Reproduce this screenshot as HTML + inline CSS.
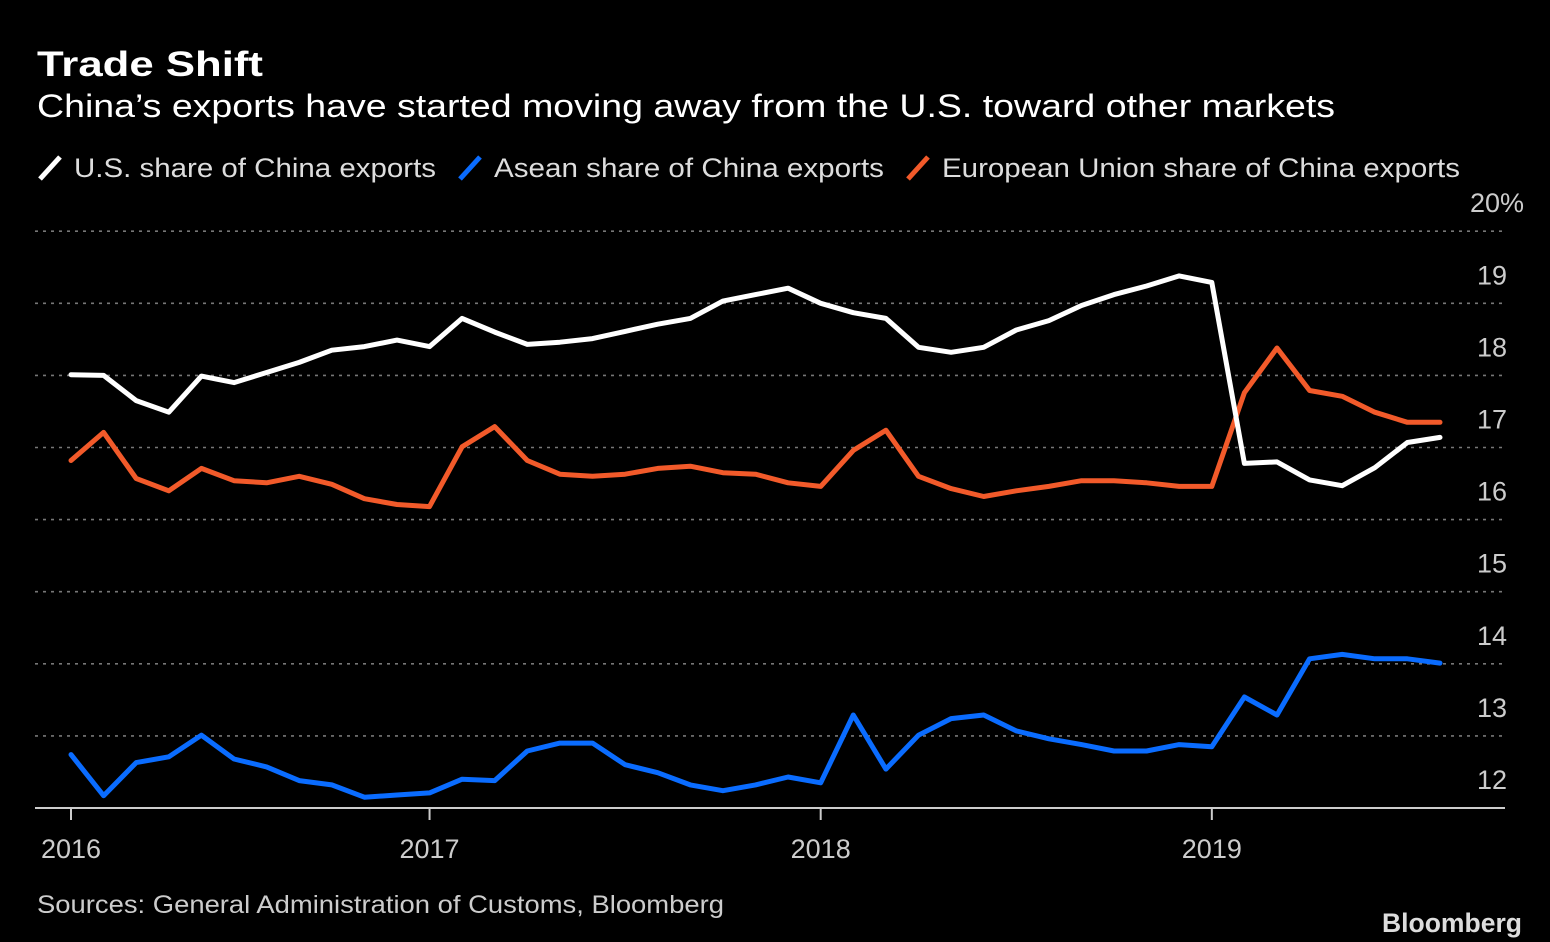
<!DOCTYPE html>
<html><head><meta charset="utf-8"><style>
html,body{margin:0;padding:0;background:#000;}
svg{display:block;font-family:"Liberation Sans",sans-serif;}
</style></head><body>
<svg id="chart" width="1550" height="942" viewBox="0 0 1550 942">
<rect width="1550" height="942" fill="#000"/>
<text x="37" y="76" fill="#fff" font-size="35" font-weight="bold" textLength="226" lengthAdjust="spacingAndGlyphs">Trade Shift</text>
<text x="37" y="117" fill="#fff" font-size="32" textLength="1298" lengthAdjust="spacingAndGlyphs">China’s exports have started moving away from the U.S. toward other markets</text>
<g>
<g><line x1="40" y1="179" x2="60" y2="157" stroke="#fff" stroke-width="5"/><text x="74" y="177" fill="#ddd" font-size="27" textLength="362" lengthAdjust="spacingAndGlyphs">U.S. share of China exports</text></g>
<g><line x1="460" y1="179" x2="480" y2="157" stroke="#0a6cff" stroke-width="5"/><text x="494" y="177" fill="#ddd" font-size="27" textLength="390" lengthAdjust="spacingAndGlyphs">Asean share of China exports</text></g>
<g><line x1="908" y1="179" x2="928" y2="157" stroke="#f25a2a" stroke-width="5"/><text x="942" y="177" fill="#ddd" font-size="27" textLength="518" lengthAdjust="spacingAndGlyphs">European Union share of China exports</text></g>
</g>
<g id="grid"></g><g id="axes"></g><g id="series"></g>
<text x="37" y="913" fill="#ccc" font-size="25" textLength="687" lengthAdjust="spacingAndGlyphs">Sources: General Administration of Customs, Bloomberg</text>
<text x="1522" y="932" text-anchor="end" fill="#ddd" font-size="27" font-weight="bold" textLength="140" lengthAdjust="spacingAndGlyphs">Bloomberg</text>
</svg>
<script>
const yTicks = [12,13,14,15,16,17,18,19,20];
const yTickLabels = ["12","13","14","15","16","17","18","19","20%"];
const xTickIndex = [0,11,23,35];
const xTickLabels = ["2016","2017","2018","2019"];
const usShare = [18.01,18.0,17.65,17.49,17.99,17.9,18.04,18.18,18.35,18.4,18.49,18.4,18.79,18.6,18.43,18.46,18.51,18.61,18.71,18.79,19.03,19.12,19.21,19.0,18.87,18.79,18.39,18.32,18.39,18.63,18.76,18.97,19.12,19.24,19.38,19.29,16.78,16.8,16.55,16.47,16.72,17.07,17.14];
const euShare = [16.82,17.21,16.57,16.4,16.71,16.54,16.51,16.6,16.49,16.29,16.21,16.18,17.01,17.29,16.82,16.63,16.6,16.63,16.71,16.74,16.65,16.63,16.51,16.46,16.96,17.24,16.6,16.43,16.32,16.4,16.46,16.54,16.54,16.51,16.46,16.46,17.76,18.38,17.79,17.71,17.49,17.35,17.35];
const aseanShare = [12.74,12.17,12.63,12.71,13.01,12.68,12.57,12.38,12.32,12.15,12.18,12.21,12.4,12.38,12.79,12.9,12.9,12.6,12.49,12.32,12.24,12.32,12.43,12.35,13.29,12.54,13.01,13.24,13.29,13.07,12.96,12.88,12.79,12.79,12.88,12.85,13.54,13.29,14.07,14.13,14.07,14.07,14.01];

const NS = "http://www.w3.org/2000/svg";
function x(i){ return 71 + i * (1440 - 71) / 42; }
function y(v){ return 808 - (v - 12) * 72.1; }
function mk(tag, attrs, parent){ const e = document.createElementNS(NS, tag); for (const k in attrs) e.setAttribute(k, attrs[k]); parent.appendChild(e); return e; }

const grid = document.getElementById('grid');
const axes = document.getElementById('axes');
yTicks.forEach((t, k) => {
  if (t !== 12) {
    const g = mk('line', {x1:35, x2:1505, y1:y(t), y2:y(t), stroke:'#777', 'stroke-width':1.6, 'stroke-dasharray':'3 5'}, grid);
    
    
  }
  const lb = mk('text', {x:1507, y:y(t) - 19, 'text-anchor':'end', fill:'#ccc', 'font-size':27}, axes);
  lb.textContent = yTickLabels[k];
  if (t === 20) { lb.setAttribute('x', 1524); }
  
  
});
const base = mk('line', {x1:35, x2:1505, y1:808, y2:808, stroke:'#ccc', 'stroke-width':2}, axes);


xTickIndex.forEach((idx, k) => {
  const tk = mk('line', {x1:x(idx), x2:x(idx), y1:808, y2:820, stroke:'#ccc', 'stroke-width':2}, axes);
  
  
  const lb = mk('text', {x:x(idx), y:858, 'text-anchor':'middle', fill:'#ccc', 'font-size':27}, axes);
  lb.textContent = xTickLabels[k];
  
  
});
const series = document.getElementById('series');
function drawLine(vals, color, name){
  const d = vals.map((v, i) => (i ? 'L' : 'M') + x(i).toFixed(1) + ' ' + y(v).toFixed(1)).join(' ');
  const p = mk('path', {d:d, fill:'none', stroke:color, 'stroke-width':5, 'stroke-linejoin':'round', 'stroke-linecap':'round'}, series);
  
  
}
drawLine(aseanShare, '#0a6cff', 'asean-share-line');
drawLine(euShare, '#f25a2a', 'eu-share-line');
drawLine(usShare, '#ffffff', 'us-share-line');
</script>
</body></html>
